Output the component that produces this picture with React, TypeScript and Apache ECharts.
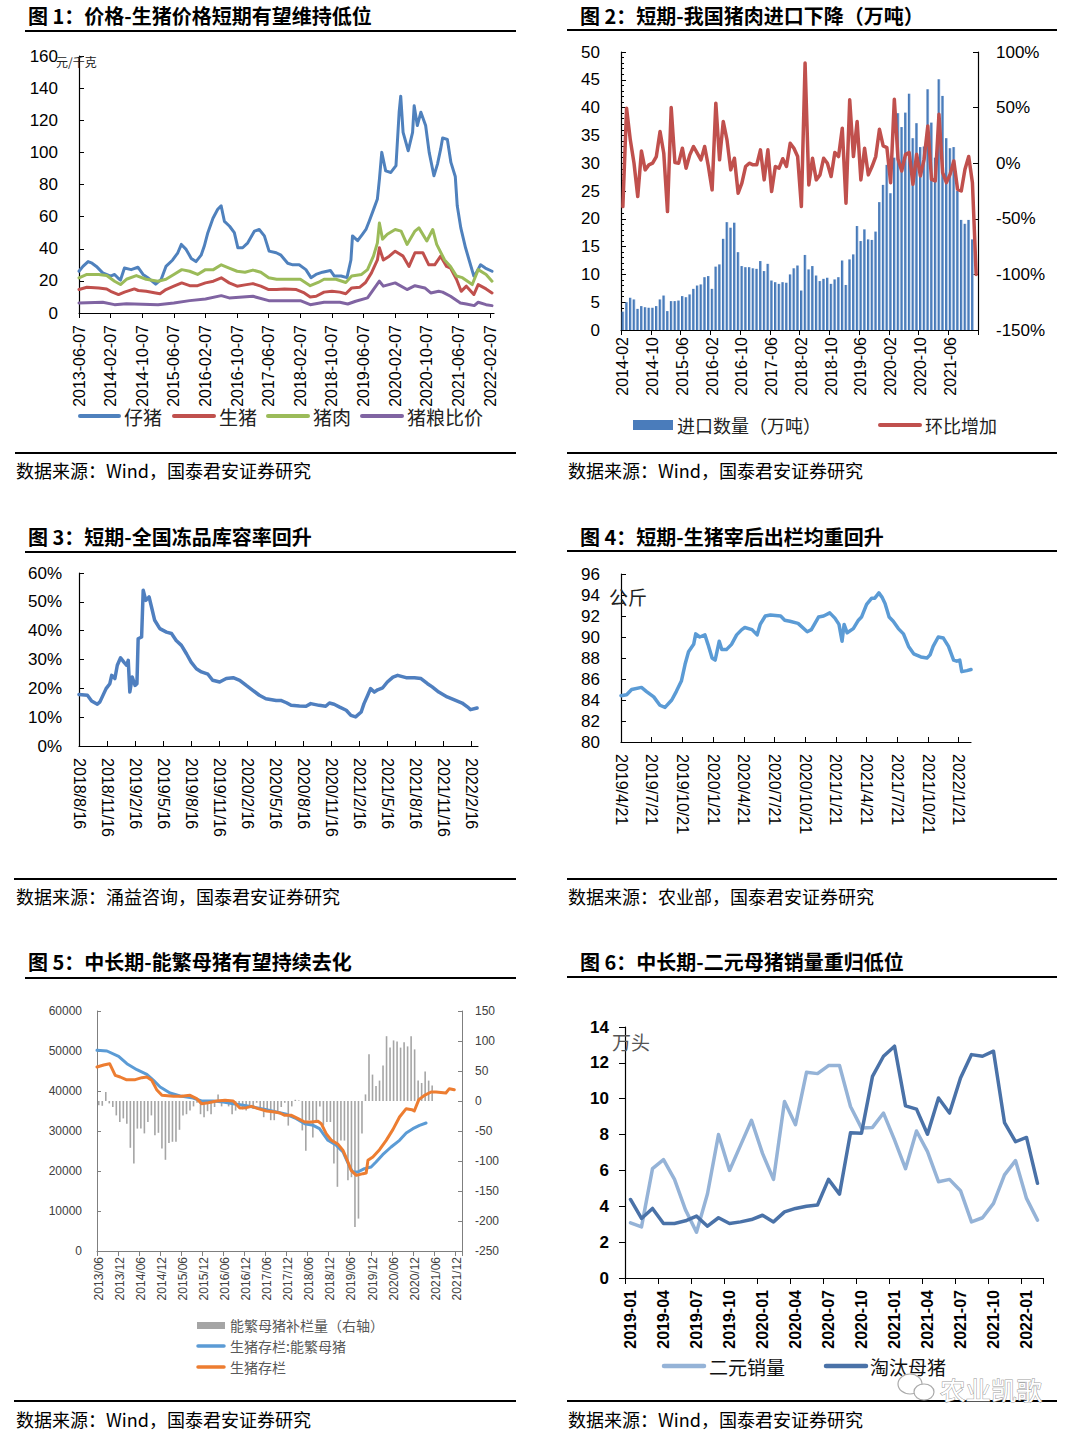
import React, { useEffect, useRef } from 'react';
import * as echarts from 'echarts';

const W = 1077;
const H = 1436;
const CJK = '"Noto Sans CJK SC", "Noto Sans", sans-serif';
const NUM = '"Liberation Sans", Arial, sans-serif';

// ---------- Chart 1: prices (x = months since 2013-06-07) ----------
const c1TickLabels = ['2013-06-07', '2014-02-07', '2014-10-07', '2015-06-07', '2016-02-07', '2016-10-07', '2017-06-07', '2018-02-07', '2018-10-07', '2019-06-07', '2020-02-07', '2020-10-07', '2021-06-07', '2022-02-07'];
const c1Piglet: [number, number][] = [[0, 26], [1, 29], [2.3, 32], [3.3, 31], [4.4, 29], [6, 25], [8, 23], [9, 24], [10, 21.5], [10.5, 20.5], [11.5, 28], [13.2, 27], [14.9, 28.5], [16.2, 24], [17.4, 22], [19.4, 18], [20.8, 21], [22, 29], [23.7, 33], [25, 37.5], [25.9, 42.7], [27.1, 39.6], [28.4, 34], [29.6, 32], [30.9, 36], [31.7, 41.7], [32.6, 50], [33.9, 59], [35.1, 64.6], [35.96, 66.7], [36.8, 57], [38.1, 54], [39.3, 50], [40.2, 40.6], [41.4, 40.6], [42.7, 43.7], [44.4, 51], [45.6, 52], [46.9, 48], [48.1, 38.5], [49.9, 37.5], [51.1, 36], [52.8, 31], [54.1, 30], [55.7, 30], [57.4, 27], [58.7, 22], [59.96, 24], [61.6, 25.4], [63.6, 26.5], [64.6, 23], [66.3, 23], [67.8, 22], [68.8, 33], [69.2, 48], [70.5, 45], [71.7, 49], [72.6, 52], [73.4, 57], [74.7, 65.6], [75.5, 71], [76, 83], [76.6, 100], [77.6, 88.5], [78.9, 87.5], [80.2, 91.7], [81, 125], [81.4, 135], [82, 112.5], [83.3, 101], [84.4, 112.5], [84.8, 129], [85.6, 116.7], [86.5, 125], [87.7, 116.7], [88.6, 100], [89.8, 85.4], [90.7, 92.7], [91.5, 102], [92, 109], [93.2, 108], [94.1, 93.75], [95.2, 85], [95.7, 66.7], [96.6, 53], [97.8, 40.6], [98.7, 33], [99.9, 23], [100.5, 25], [101.6, 30], [102.8, 28], [104.5, 26]];
const c1Hog: [number, number][] = [[0, 14.6], [2, 16], [5, 15.6], [7, 15], [8, 13.5], [10, 11.5], [11.5, 13], [14, 15], [15, 14], [17, 13.5], [19.4, 12.5], [20.5, 12], [22, 14.6], [24, 16.7], [26, 18.75], [28, 17], [30, 17], [32, 18.75], [34, 19.8], [36, 21.9], [38, 18.75], [40, 16.7], [42, 17.5], [44, 18.3], [46, 16.7], [48, 14.6], [50, 14.6], [52, 15], [55, 14.6], [57, 12.5], [58.5, 10], [60, 10.4], [62, 13], [64, 13.5], [66, 13], [67.5, 12], [69, 15.6], [71, 16], [72.5, 19], [74, 25], [75.5, 33], [76, 40.6], [77, 33], [78.5, 35.4], [80, 38.5], [82, 35.4], [83.5, 29], [85, 37.5], [87, 37.5], [88.5, 30], [90, 30], [91.5, 35.4], [93, 29], [94, 28], [95.5, 21], [96.7, 13.5], [98, 16.7], [99.9, 11.5], [101, 17.7], [103, 15], [104.5, 12.5]];
const c1Pork: [number, number][] = [[0, 21.9], [2, 24], [5, 24], [7, 23.3], [9, 19.8], [10.5, 17.7], [12, 21], [14.5, 23.3], [17, 21], [20, 19.8], [22, 21], [24, 24], [26, 27], [28, 26], [30, 24], [32, 27], [34, 27], [36, 30], [38, 28], [40, 26], [42, 25.4], [44, 26.7], [46, 25.4], [48, 22], [50, 21], [54, 21], [56, 21], [58.5, 17], [60.5, 19], [62, 21], [65, 21], [67.5, 19], [69, 23], [71.5, 24], [73, 27], [74.5, 35.4], [75.5, 43.7], [76, 56], [76.8, 46], [78, 49], [80, 52], [81.5, 51], [83, 42.7], [85, 51], [86, 53], [88, 44.8], [89.5, 52], [90.5, 42.7], [92.5, 33], [94, 29], [95.5, 23], [97, 22], [99.5, 17.7], [101, 27], [103, 24], [104.5, 19.8]];
const c1Ratio: [number, number][] = [[0, 6.25], [6, 6.7], [9, 5.2], [12, 5.8], [20, 5.2], [24, 6.25], [28, 7.7], [32, 8.75], [36, 10.8], [38, 9.4], [44, 10.4], [48, 7.7], [56, 7.7], [58.5, 5.2], [62, 6.7], [66, 6.7], [68, 5.6], [70, 7.3], [73, 9.4], [76, 19.8], [77, 16.7], [80, 18.75], [83, 14.6], [85, 17], [87.5, 15.6], [89, 12.5], [91, 13.5], [92, 13], [94, 10.4], [96.5, 6.25], [98, 5.6], [100, 4.6], [101, 6.7], [103, 5.2], [104.5, 4.6]];

// ---------- Chart 2: pork imports (monthly from 2014-02) ----------
const c2Imports = [3.3, 5, 5.8, 5.5, 3.8, 4.3, 4.1, 4.0, 4.0, 4.3, 5.5, 6.2, 3.4, 5.2, 5.2, 5.3, 6.1, 5.9, 6.4, 7.4, 8.0, 8.2, 9.5, 9.7, 7.4, 11.4, 11.8, 16.4, 19.4, 18.4, 19.3, 14.0, 11.5, 11.3, 11.3, 11.1, 11.0, 12.4, 10.6, 11.9, 8.9, 8.6, 8.3, 8.6, 8.5, 10.0, 11.1, 11.6, 7.1, 13.5, 10.9, 11.5, 9.8, 8.8, 9.2, 9.4, 8.3, 9.1, 9.5, 12.5, 8.1, 12.7, 13.6, 18.7, 16.0, 18.1, 16.3, 16.2, 17.7, 23.0, 26.1, 29.7, 24.6, 31, 39.0, 36.5, 39.1, 42.5, 34.5, 37.2, 32.9, 33, 43.3, 37.3, 31, 45.1, 42.1, 34.5, 32.7, 32.9, 25, 19.8, 19.1, 19.8, 16.3, 0];
const c2MoM = [-39, 49.5, 21, 0, -30, 11, -6, -1.5, 0, 6, 28.5, 9, -43.5, 50, 0.6, 0, 13.5, -4.5, 7.5, 15, 9, 3, 15, -3, -24, 54, 3, 37.5, 21, -6, 4.5, -27, -18, -3, 0, -1.5, -1.5, 12, -15, 12, -25.5, -3, -4.5, 4, -3, 18, 13.5, 6, -39, 90, -19.5, 4.5, -15, -10.5, 4.5, 0, -12, 9.6, 6, 31.5, -36, 57, 6, 37.5, -15, 13.5, -10.5, -3, 6, 30.5, 15.5, 14, -17.5, 57.5, 3.5, -7, 8, 9.5, -19, 8, -11.5, 3.5, 33.5, -14.5, -16, 44, -8.5, -17.5, -10, 2, -23.5, -25, -5.5, 6, -17.5, -100];

// ---------- Chart 3: cold storage ratio (x = months since 2018/8/16) ----------
const c3TickLabels = ['2018/8/16', '2018/11/16', '2019/2/16', '2019/5/16', '2019/8/16', '2019/11/16', '2020/2/16', '2020/5/16', '2020/8/16', '2020/11/16', '2021/2/16', '2021/5/16', '2021/8/16', '2021/11/16', '2022/2/16'];
const c3Ratio: [number, number][] = [[0, 17.9], [0.9, 17.6], [1.35, 15.6], [1.96, 14.5], [2.24, 15.3], [2.9, 19.9], [3.3, 21.6], [3.5, 24.5], [3.84, 23.4], [4.1, 28], [4.45, 30.6], [4.8, 29.1], [5.1, 28], [5.27, 29.7], [5.44, 18.7], [5.7, 23.9], [6, 21], [6.2, 21.6], [6.33, 37.2], [6.7, 37.8], [6.87, 54], [7.15, 50.5], [7.5, 51.7], [7.76, 48.2], [8.1, 43.6], [8.65, 40.7], [9.36, 39.5], [9.9, 39], [10.4, 36.6], [10.96, 34.9], [11.5, 32], [12, 29.1], [12.56, 26.8], [13.1, 25.7], [13.8, 24.9], [14.3, 22.8], [15.05, 22.2], [15.76, 23.4], [16.5, 23.7], [17.2, 22.8], [17.9, 21], [18.6, 19.3], [19.3, 17.6], [20, 16.4], [21.1, 15.8], [21.6, 15.8], [22.2, 15], [22.7, 14.1], [23.6, 13.9], [24.3, 13.8], [24.8, 14.7], [25.7, 14.1], [26.4, 13.8], [26.8, 14.9], [27.3, 14.5], [27.9, 13.5], [28.6, 12.4], [29.1, 10.6], [29.6, 10.1], [30.2, 11.8], [30.5, 14.7], [30.9, 17.6], [31.2, 19.9], [31.6, 18.7], [31.96, 19.5], [32.5, 20.2], [33, 22.2], [33.6, 23.9], [34.1, 24.5], [35, 23.7], [35.9, 23.7], [36.6, 23.4], [37.3, 21.6], [37.8, 20.5], [38.5, 18.7], [39.4, 17], [40.3, 15.8], [41, 14.9], [41.6, 13.5], [41.9, 12.6], [42.6, 13.2]];

// ---------- Chart 4: slaughter weight (x = months since 2019/4/21) ----------
const c4TickLabels = ['2019/4/21', '2019/7/21', '2019/10/21', '2020/1/21', '2020/4/21', '2020/7/21', '2020/10/21', '2021/1/21', '2021/4/21', '2021/7/21', '2021/10/21', '2022/1/21'];
const c4Weight: [number, number][] = [[0, 84.4], [0.55, 84.5], [1.04, 85], [2, 85.2], [2.5, 84.8], [3.2, 84.3], [3.8, 83.5], [4.3, 83.3], [4.96, 84], [5.4, 84.8], [5.9, 85.8], [6.26, 87.4], [6.6, 88.6], [7.1, 89.3], [7.3, 90.3], [7.7, 90], [8.2, 90.2], [8.5, 89.3], [8.9, 88], [9.2, 87.8], [9.6, 89.6], [9.85, 88.8], [10.3, 88.8], [10.8, 89.3], [11.3, 90.2], [11.8, 90.7], [12.1, 90.9], [12.8, 90.7], [13.3, 90.2], [13.6, 91.2], [14.1, 92], [14.6, 92.1], [15.6, 92], [16, 91.6], [16.5, 91.5], [17.3, 91.3], [18.2, 90.5], [18.6, 90.7], [19.3, 91.9], [19.8, 92], [20.4, 92.3], [20.9, 91.8], [21.3, 91.2], [21.6, 89.6], [21.8, 91.2], [22.1, 90.4], [22.7, 90.8], [23.2, 91.6], [23.5, 91.9], [24, 93.1], [24.5, 93.7], [24.8, 93.7], [25.2, 94.2], [25.5, 93.8], [25.8, 93.2], [26.2, 91.9], [26.6, 91.5], [27.1, 90.8], [27.6, 90.3], [28.1, 89.1], [28.6, 88.4], [29.3, 88.1], [29.9, 88], [30.2, 88.3], [30.5, 89.1], [31, 90], [31.5, 89.9], [32, 89.1], [32.5, 87.8], [32.8, 87.7], [33.1, 87.8], [33.3, 86.7], [33.8, 86.8], [34.2, 86.9]];

// ---------- Chart 5: sows (monthly from 2013/06) ----------
const c5Replenish = [-7, -8, 15, -4, -10, -24, -35, -29, -38, -78, -104, -46, -46, -54, -35, -24, -57, -53, -79, -98, -70, -68, -68, -48, -24, -22, -16, -9, -3, -22, -27, -17, -22, -10, 11, -9, -3, -9, -22, -16, -7, -14, -16, -7, -13, -3, -10, -27, -17, -32, -32, -21, -10, -3, -41, -9, 2, 1, -49, -83, -32, -61, -35, -9, -41, -35, -35, -104, -143, -66, -66, -132, -127, -210, -196, -54, 11, 78, 44, 25, 34, 59, 108, 89, 101, 99, 89, 98, 91, 108, 86, 34, 30, 49, 34, 26];
const c5Sows: [number, number][] = [[0, 50167], [2.84, 50000], [6.16, 48667], [8.52, 46833], [11.36, 45333], [14.2, 44167], [16.1, 42667], [18, 41000], [20.8, 39500], [23.7, 38750], [27, 38333], [29.8, 37500], [33.1, 37500], [36, 37250], [38.8, 36833], [41.7, 36417], [44.5, 36000], [48.3, 35333], [51.1, 34750], [54, 34167], [56.8, 33083], [59.2, 31833], [61.6, 31417], [63.4, 30583], [65.8, 27667], [68.2, 26417], [70.1, 24750], [72, 21000], [72.9, 19750], [74.3, 19750], [76.2, 20583], [78.1, 21000], [79.5, 22250], [81.4, 24083], [83.8, 26000], [86.2, 27667], [88.1, 29500], [90, 30583], [91.9, 31417], [93.75, 32000]];
const c5Hogs: [number, number][] = [[0, 46000], [1.9, 46500], [3.6, 46833], [5.2, 43917], [6.6, 43500], [8.3, 42833], [10.9, 42833], [12.8, 43333], [14.2, 43500], [15.6, 42667], [17, 40333], [18.5, 38917], [21.8, 38667], [24.1, 38667], [26.5, 38917], [28.4, 38083], [29.8, 36833], [31.7, 37083], [34.1, 37500], [36.5, 37667], [38.8, 37500], [40.7, 35750], [42.6, 35833], [44, 36167], [45.9, 35583], [48.3, 35000], [50.7, 34750], [52.1, 34500], [53.5, 33917], [55.4, 33917], [57.3, 33083], [59.2, 32250], [61.1, 32250], [62.97, 32417], [63.9, 31833], [65.3, 29333], [66.8, 27667], [68.7, 26667], [70.1, 25167], [71.5, 22250], [72.4, 20167], [73.9, 18917], [75.8, 19333], [76.7, 19500], [77.2, 22667], [78.6, 23500], [80.5, 25333], [82.4, 27667], [84.3, 30333], [86.2, 33500], [88.1, 35583], [89.7, 35333], [90.4, 35000], [91.7, 37833], [93.3, 38917], [95.2, 39750], [96.6, 39750], [99.4, 39500], [100.4, 40583], [101.8, 40333]];

// ---------- Chart 6: gilt sales vs culled sows (monthly from 2019-01) ----------
const c6Gilts = [3.08, 2.85, 6.1, 6.6, 5.5, 3.8, 2.55, 4.7, 8.0, 6.0, 7.4, 8.8, 6.95, 5.5, 9.85, 8.55, 11.47, 11.4, 11.85, 11.85, 9.57, 8.36, 8.4, 9.2, 7.7, 6.1, 8.2, 7.05, 5.37, 5.5, 4.87, 3.13, 3.36, 4.16, 5.75, 6.55, 4.44, 3.23];
const c6Culled = [4.38, 3.32, 3.88, 3.04, 3.04, 3.19, 3.45, 2.89, 3.36, 3.04, 3.13, 3.26, 3.5, 3.13, 3.69, 3.88, 4.0, 4.07, 5.5, 4.68, 8.1, 8.08, 11.25, 12.37, 12.93, 9.6, 9.42, 8.02, 10.04, 9.2, 11.16, 12.46, 12.37, 12.65, 8.67, 7.6, 7.84, 5.28];

function monthList(y: number, m: number, n: number, sep: string): string[] {
  const out: string[] = [];
  for (let i = 0; i < n; i++) {
    const t = (m - 1) + i;
    const yy = y + Math.floor(t / 12);
    const mm = (t % 12) + 1;
    out.push(`${yy}${sep}${mm < 10 ? '0' + mm : mm}`);
  }
  return out;
}
const c2Months = monthList(2014, 2, 96, '-');
const c5Months = monthList(2013, 6, 104, '/');
const c6Months = monthList(2019, 1, 38, '-');

const tickFmt = (labels: string[], step: number) => (v: number) => {
  const i = Math.round(v / step);
  return Math.abs(v - i * step) < 1e-6 && labels[i] ? labels[i] : '';
};

const txt = (text: string, x: number, y: number, size: number, o: any = {}) => ({
  type: 'text', x, y, z: 100,
  style: {
    text, fill: o.fill || '#000', fontSize: size, fontFamily: o.family || CJK, fontWeight: o.weight || 'normal',
    textAlign: o.align || 'left', textVerticalAlign: 'middle', align: o.align || 'left', verticalAlign: 'middle',
    stroke: o.stroke, lineWidth: o.lw,
  },
});
const hline = (x1: number, x2: number, y: number, w = 2, color = '#000') => ({
  type: 'line', z: 100, shape: { x1, y1: y, x2, y2: y }, style: { stroke: color, lineWidth: w },
});
const legLine = (x1: number, x2: number, y: number, color: string, w = 4) => ({
  type: 'line', z: 100, shape: { x1, y1: y, x2, y2: y }, style: { stroke: color, lineWidth: w, lineCap: 'round' },
});

const BLACK = '#000';
const axisLineBlack = { show: true, onZero: false, lineStyle: { color: BLACK, width: 1.2 } };

function buildOption(): any {
  const barGrad = new echarts.graphic.LinearGradient(0, 0, 1, 0, [
    { offset: 0, color: '#3d70b2' }, { offset: 0.55, color: '#4f81bd' }, { offset: 1, color: '#a7c2e6' },
  ]);
  const numLbl = (size: number, extra: any = {}) => ({ fontSize: size, fontFamily: NUM, color: '#000', ...extra });

  const grid = [
    { left: 79, top: 56, width: 415, height: 257 },
    { left: 621, top: 52, width: 357, height: 278 },
    { left: 79, top: 573, width: 399, height: 173 },
    { left: 621, top: 574, width: 350, height: 168 },
    { left: 97, top: 1011, width: 365, height: 240 },
    { left: 625, top: 1027, width: 418, height: 251 },
  ].map((g) => ({ ...g, containLabel: false, outerBoundsMode: 'none' }));

  const xAxis = [
    { gridIndex: 0, type: 'value', min: 0, max: 105, interval: 8, splitLine: { show: false }, axisLine: axisLineBlack,
      axisTick: { show: true, inside: false, length: 5, lineStyle: { color: BLACK } },
      axisLabel: { ...numLbl(16), rotate: 90, margin: 12, showMaxLabel: false, formatter: tickFmt(c1TickLabels, 8) } },
    { gridIndex: 1, type: 'category', data: c2Months, boundaryGap: true, axisLine: axisLineBlack,
      axisTick: { show: true, interval: 7, length: 5, lineStyle: { color: BLACK } },
      axisLabel: { ...numLbl(16), rotate: 90, margin: 7, interval: 7 } },
    { gridIndex: 2, type: 'value', min: 0, max: 42.7, interval: 3, splitLine: { show: false }, axisLine: axisLineBlack,
      axisTick: { show: true, inside: true, length: 5, lineStyle: { color: BLACK } },
      axisLabel: { ...numLbl(16), rotate: -90, margin: 12, showMaxLabel: false, formatter: tickFmt(c3TickLabels, 3) } },
    { gridIndex: 3, type: 'value', min: 0, max: 34.2, interval: 3, splitLine: { show: false }, axisLine: axisLineBlack,
      axisTick: { show: true, inside: true, length: 5, lineStyle: { color: BLACK } },
      axisLabel: { ...numLbl(16), rotate: -90, margin: 12, showMaxLabel: false, formatter: tickFmt(c4TickLabels, 3) } },
    { gridIndex: 4, type: 'category', data: c5Months, boundaryGap: true,
      axisLine: { show: true, onZero: false, lineStyle: { color: '#7f7f7f', width: 1 } },
      axisTick: { show: true, interval: 5, length: 5, lineStyle: { color: '#7f7f7f' } },
      axisLabel: { fontSize: 12, fontFamily: NUM, color: '#404040', rotate: 90, margin: 6, interval: 5 } },
    { gridIndex: 4, type: 'value', min: 0, max: 104, show: false },
    { gridIndex: 5, type: 'category', data: c6Months, boundaryGap: true, axisLine: axisLineBlack,
      axisTick: { show: true, interval: 2, length: 6, lineStyle: { color: BLACK } },
      axisLabel: { ...numLbl(16, { fontWeight: 'bold' }), rotate: 90, margin: 12, interval: 2 } },
  ];

  const yAxis = [
    { gridIndex: 0, type: 'value', min: 0, max: 160, interval: 20, splitLine: { show: false }, axisLine: axisLineBlack,
      axisTick: { show: true, inside: true, length: 5, lineStyle: { color: BLACK } }, axisLabel: { ...numLbl(17), margin: 21 } },
    { gridIndex: 1, type: 'value', min: 0, max: 50, interval: 5, splitLine: { show: false }, axisLine: axisLineBlack,
      axisTick: { show: true, inside: true, length: 5, lineStyle: { color: BLACK } },
      minorTick: { show: true, splitNumber: 5, length: 3, lineStyle: { color: BLACK } },
      axisLabel: { ...numLbl(17), margin: 21 } },
    { gridIndex: 1, type: 'value', position: 'right', min: -150, max: 100, interval: 50, splitLine: { show: false }, axisLine: axisLineBlack,
      axisTick: { show: true, inside: true, length: 5, lineStyle: { color: BLACK } },
      axisLabel: { ...numLbl(17), margin: 18, formatter: '{value}%' } },
    { gridIndex: 2, type: 'value', min: 0, max: 60, interval: 10, splitLine: { show: false }, axisLine: axisLineBlack,
      axisTick: { show: true, inside: true, length: 5, lineStyle: { color: BLACK } },
      axisLabel: { ...numLbl(17), margin: 17, formatter: '{value}%' } },
    { gridIndex: 3, type: 'value', min: 80, max: 96, interval: 2, splitLine: { show: false }, axisLine: axisLineBlack,
      axisTick: { show: true, inside: true, length: 5, lineStyle: { color: BLACK } },
      axisLabel: { ...numLbl(17), margin: 21 } },
    { gridIndex: 4, type: 'value', min: 0, max: 60000, interval: 10000, splitLine: { show: false },
      axisLine: { show: true, onZero: false, lineStyle: { color: '#7f7f7f' } },
      axisTick: { show: true, inside: true, length: 4, lineStyle: { color: '#7f7f7f' } },
      axisLabel: { fontSize: 12, fontFamily: NUM, color: '#404040', margin: 15, formatter: (v: number) => String(v) } },
    { gridIndex: 4, type: 'value', position: 'right', min: -250, max: 150, interval: 50, splitLine: { show: false },
      axisLine: { show: true, onZero: false, lineStyle: { color: '#7f7f7f' } },
      axisTick: { show: true, inside: true, length: 4, lineStyle: { color: '#7f7f7f' } },
      axisLabel: { fontSize: 12, fontFamily: NUM, color: '#404040', margin: 13 } },
    { gridIndex: 5, type: 'value', min: 0, max: 14, interval: 2, splitLine: { show: false }, axisLine: axisLineBlack,
      axisTick: { show: true, inside: false, length: 6, lineStyle: { color: BLACK } },
      axisLabel: { ...numLbl(17, { fontWeight: 'bold' }), margin: 16 } },
  ];

  const line = (name: string, data: any, xi: number, yi: number, color: string, w = 3) => ({
    name, type: 'line', data, xAxisIndex: xi, yAxisIndex: yi, symbol: 'none', smooth: false,
    lineStyle: { color, width: w, join: 'round', cap: 'round' }, itemStyle: { color }, emphasis: { disabled: true },
  });

  const series = [
    line('仔猪', c1Piglet, 0, 0, '#4f81bd'),
    line('生猪', c1Hog, 0, 0, '#c0504d'),
    line('猪肉', c1Pork, 0, 0, '#9bbb59'),
    line('猪粮比价', c1Ratio, 0, 0, '#8064a2'),
    { name: '进口数量（万吨）', type: 'bar', data: c2Imports, xAxisIndex: 1, yAxisIndex: 1, barWidth: '72%',
      itemStyle: { color: barGrad }, emphasis: { disabled: true } },
    line('环比增加', c2MoM, 1, 2, '#c0504d', 3.5),
    line('冻品库容率', c3Ratio, 2, 3, '#4f7fbf', 3.5),
    line('出栏均重', c4Weight, 3, 4, '#5b9bd5', 3.5),
    { name: '能繁母猪补栏量（右轴）', type: 'bar', data: c5Replenish, xAxisIndex: 4, yAxisIndex: 6, barWidth: 1.6,
      itemStyle: { color: '#a5a5a5' }, emphasis: { disabled: true } },
    line('生猪存栏:能繁母猪', c5Sows, 5, 5, '#5b9bd5', 3),
    line('生猪存栏', c5Hogs, 5, 5, '#ed7d31', 3),
    line('二元销量', c6Gilts, 6, 7, '#95b3d7', 3.5),
    line('淘汰母猪', c6Culled, 6, 7, '#4a72a8', 3.5),
  ];

  const src = '数据来源：Wind，国泰君安证券研究';
  const TS = 20;
  const elements: any[] = [
    // titles
    txt('图 1：价格-生猪价格短期有望维持低位', 28, 15, TS, { weight: 'bold' }),
    txt('图 2：短期-我国猪肉进口下降（万吨）', 580, 15, TS, { weight: 'bold' }),
    txt('图 3：短期-全国冻品库容率回升', 28, 536, TS, { weight: 'bold' }),
    txt('图 4：短期-生猪宰后出栏均重回升', 580, 536, TS, { weight: 'bold' }),
    txt('图 5：中长期-能繁母猪有望持续去化', 28, 961, TS, { weight: 'bold' }),
    txt('图 6：中长期-二元母猪销量重归低位', 580, 961, TS, { weight: 'bold' }),
    hline(25, 516, 31), hline(567, 1057, 30),
    hline(25, 516, 552), hline(567, 1057, 551),
    hline(25, 516, 978), hline(567, 1057, 977),
    hline(15, 516, 453), hline(567, 1057, 453),
    hline(14, 516, 879), hline(567, 1057, 879),
    hline(14, 516, 1401), hline(567, 1057, 1401),
    // sources
    txt(src, 16, 470, 18), txt(src, 568, 470, 18),
    txt('数据来源：涌益咨询，国泰君安证券研究', 16, 896, 18), txt('数据来源：农业部，国泰君安证券研究', 568, 896, 18),
    txt(src, 16, 1419, 18), txt(src, 568, 1419, 18),
    // units
    txt('元/千克', 56, 61, 12, { fill: '#222' }),
    txt('公斤', 609, 596, 19, { fill: '#222' }),
    txt('万头', 612, 1041, 19, { fill: '#555' }),
    // legend chart 1
    legLine(80, 119, 416, '#4f81bd'), txt('仔猪', 124, 416, 19, { fill: '#222' }),
    legLine(174, 214, 416, '#c0504d'), txt('生猪', 219, 416, 19, { fill: '#222' }),
    legLine(268, 308, 416, '#9bbb59'), txt('猪肉', 313, 416, 19, { fill: '#222' }),
    legLine(362, 402, 416, '#8064a2'), txt('猪粮比价', 407, 416, 19, { fill: '#222' }),
    // legend chart 2
    { type: 'rect', z: 100, shape: { x: 633, y: 420, width: 40, height: 10 }, style: { fill: '#4a7cbb' } },
    txt('进口数量（万吨）', 677, 425, 18, { fill: '#222' }),
    legLine(880, 920, 425, '#c0504d'), txt('环比增加', 925, 425, 18, { fill: '#222' }),
    // legend chart 5
    { type: 'rect', z: 100, shape: { x: 197, y: 1322, width: 28, height: 7 }, style: { fill: '#a5a5a5' } },
    txt('能繁母猪补栏量（右轴）', 230, 1325, 14, { fill: '#595959' }),
    legLine(198, 224, 1346, '#5b9bd5', 3.5), txt('生猪存栏:能繁母猪', 230, 1346, 14, { fill: '#595959' }),
    legLine(198, 224, 1367, '#ed7d31', 3.5), txt('生猪存栏', 230, 1367, 14, { fill: '#595959' }),
    // legend chart 6
    legLine(664, 704, 1366, '#95b3d7', 4.5), txt('二元销量', 709, 1366, 19, { fill: '#111' }),
    legLine(826, 866, 1366, '#4a72a8', 4.5), txt('淘汰母猪', 870, 1366, 19, { fill: '#111' }),
    // watermark
    { type: 'ellipse', z: 100, shape: { cx: 910, cy: 1384, rx: 12, ry: 10 }, style: { fill: '#fff', stroke: '#aaa', lineWidth: 1.2 } },
    { type: 'ellipse', z: 101, shape: { cx: 924, cy: 1392, rx: 10, ry: 8 }, style: { fill: '#fff', stroke: '#aaa', lineWidth: 1.2 } },
    txt('农业凯歌', 940, 1388, 25.5, { fill: '#fff', stroke: '#9a9a9a', lw: 1 }),
  ];

  return { animation: false, backgroundColor: '#fff', grid, xAxis, yAxis, series, graphic: { elements } };
}

export default function App() {
  const ref = useRef<HTMLDivElement>(null);
  useEffect(() => {
    if (!ref.current) return;
    const chart = echarts.init(ref.current, undefined, { renderer: 'svg', width: W, height: H });
    chart.setOption(buildOption());
    return () => chart.dispose();
  }, []);
  return <div ref={ref} style={{ position: 'absolute', left: 0, top: 0, width: W, height: H, background: '#fff' }} />;
}
